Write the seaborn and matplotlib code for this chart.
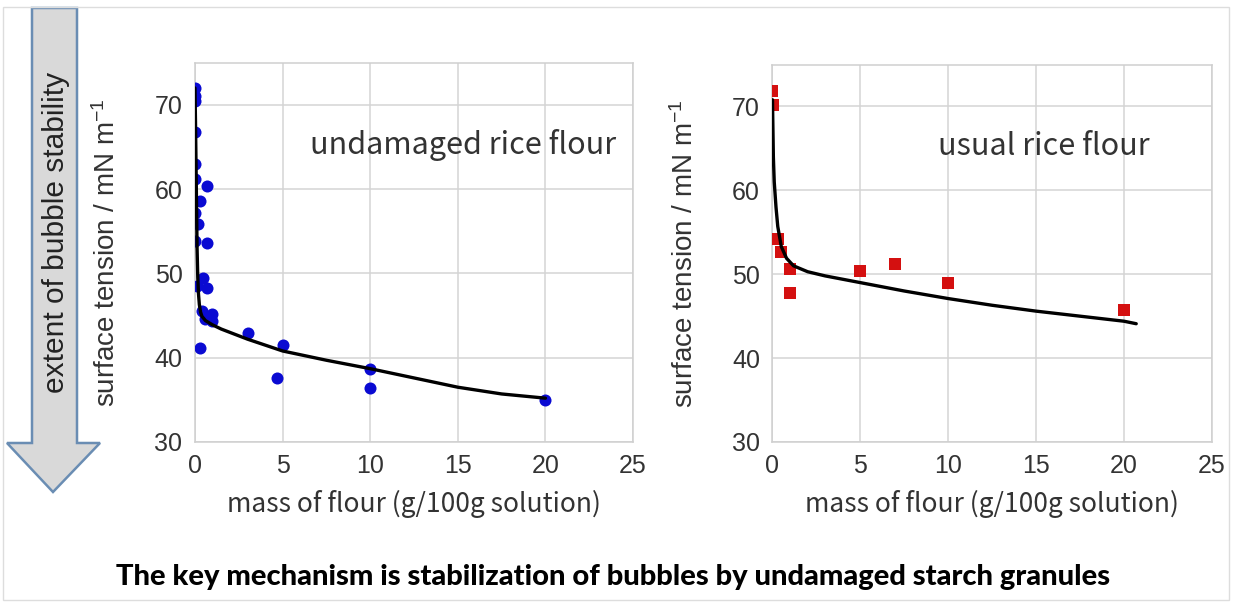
import matplotlib
matplotlib.use("Agg")
import matplotlib.pyplot as plt
import seaborn as sns
import pandas as pd
from matplotlib.patches import Polygon, Rectangle

# données
undamaged_x = [0, 0, 0, 0, 0, 0, 0.7, 0.3, 0, 0.15, 0, 0.7, 0.45, 0.1, 0.7,
               0.4, 1.0, 0.55, 1.0, 0.3, 3, 5, 4.7, 10, 10, 20]
undamaged_y = [72.0, 71.1, 70.4, 66.8, 63.0, 61.2, 60.4, 58.6, 57.2, 55.9, 53.8,
               53.6, 49.4, 48.5, 48.3, 45.6, 45.2, 44.6, 44.4, 41.2, 42.9, 41.5,
               37.6, 38.7, 36.4, 35.0]
undamaged_fit_x = [0.0, 0.03, 0.06, 0.09, 0.12, 0.16, 0.2, 0.25, 0.32, 0.4, 0.6,
                   1.0, 1.5, 2.0, 3.0, 5.0, 7.5, 10, 12.5, 15, 17.5, 20]
undamaged_fit_y = [72.0, 68.0, 63.0, 58.0, 53.0, 49.5, 47.6, 46.3, 45.4, 44.9,
                   44.4, 43.9, 43.4, 43.0, 42.2, 40.8, 39.7, 38.7, 37.6, 36.5,
                   35.7, 35.2]

usual_x = [0, 0.05, 0.3, 0.5, 1, 1, 5, 7, 10, 20]
usual_y = [71.9, 70.2, 54.2, 52.6, 50.6, 47.8, 50.4, 51.2, 49.0, 45.7]
usual_fit_x = [0.0, 0.05, 0.1, 0.2, 0.3, 0.5, 0.8, 1.2, 2.0, 3.0, 5.0, 7.5,
               10, 12.5, 15, 17.5, 20, 20.7]
usual_fit_y = [70.8, 64.0, 61.0, 58.0, 55.7, 53.3, 51.9, 51.0, 50.3, 49.8, 49.0,
               48.0, 47.1, 46.3, 45.6, 45.0, 44.4, 44.1]

x_ticks = [0, 5, 10, 15, 20, 25]
y_ticks = [30, 40, 50, 60, 70]

sns.set_theme(style="whitegrid")
plt.rcParams['font.family'] = ['Liberation Sans', 'DejaVu Sans']
plt.rcParams['mathtext.fontset'] = 'custom'
plt.rcParams['mathtext.rm'] = 'Liberation Sans'
plt.rcParams['mathtext.it'] = 'Liberation Sans'

fig = plt.figure(figsize=(12.34, 6.03), dpi=100)
ax1 = fig.add_axes([0.158, 0.267, 0.355, 0.629])
ax2 = fig.add_axes([0.626, 0.267, 0.356, 0.626])

panels = [
    (ax1, undamaged_x, undamaged_y, undamaged_fit_x, undamaged_fit_y,
     "#0a0ad2", "o", "undamaged rice flour", 0.263),
    (ax2, usual_x, usual_y, usual_fit_x, usual_fit_y,
     "#d41010", "s", "usual rice flour", 0.376),
]

for ax, px, py, fx, fy, color, marker, title, tx in panels:
    pts = pd.DataFrame({"x": px, "y": py})
    fit = pd.DataFrame({"x": fx, "y": fy})
    sns.scatterplot(data=pts, x="x", y="y", ax=ax, color=color, marker=marker,
                    s=75, linewidth=0, zorder=3)
    sns.lineplot(data=fit, x="x", y="y", ax=ax, color="black", linewidth=2.4,
                 sort=False, estimator=None, zorder=4)
    ax.set_xlim(0, 25)
    ax.set_ylim(30, 75)
    ax.set_xticks(x_ticks)
    ax.set_yticks(y_ticks)
    ax.grid(True, color="#d4d4d4", linewidth=1.1)
    for sp in ax.spines.values():
        sp.set_visible(True)
        sp.set_color("#cfcfcf")
        sp.set_linewidth(1.1)
    ax.tick_params(axis="both", length=0, labelsize=18, colors="#333333", pad=9)
    ax.set_xlabel("mass of flour (g/100g solution)", fontsize=19,
                  family=["Noto Sans CJK JP", "DejaVu Sans"], color="#333333",
                  labelpad=8)
    ax.set_ylabel(r"surface tension / mN m$^{-1}$", fontsize=20, color="#333333",
                  labelpad=24)
    ax.text(tx, 0.784, title, transform=ax.transAxes, fontsize=22,
            family=["Noto Sans CJK JP", "DejaVu Sans"], color="#333333",
            ha="left", va="center")

# flèche à gauche
W, H = 1234, 603
arrow_px = [(32, 8), (77, 8), (77, 443), (100, 443), (53, 492), (7, 443), (32, 443)]
arrow = Polygon([(x / W, 1 - y / H) for x, y in arrow_px], closed=True,
                transform=fig.transFigure, facecolor="#d9d9d9",
                edgecolor="#6a8db3", linewidth=1.8)
fig.patches.append(arrow)
fig.text(56 / W, 1 - 232 / H, "extent of bubble stability", rotation=90,
         fontsize=21.5, ha="center", va="center", color="#222222")

# cadre
fig.patches.append(Rectangle((3 / W, 3 / H), 1226 / W, 593 / H,
                             transform=fig.transFigure, fill=False,
                             edgecolor="#dddddd", linewidth=1))

fig.text(613 / W, 1 - 577 / H,
         "The key mechanism is stabilization of bubbles by undamaged starch granules",
         fontsize=21, fontweight="black", family=["Lato", "DejaVu Sans"],
         ha="center", va="center", color="black")

fig.savefig("out.png", dpi=100)
